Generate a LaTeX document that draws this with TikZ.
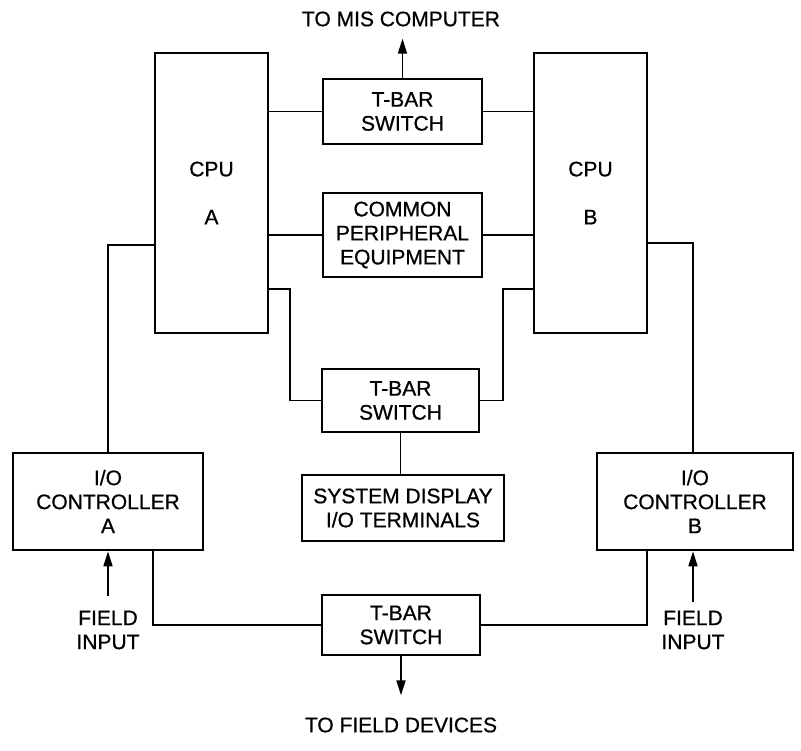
\documentclass[tikz,border=0pt]{standalone}
\usepackage{fontspec}
\newfontfamily\diagfont[FakeBold=0.7]{Liberation Sans}
\usetikzlibrary{arrows.meta}
\begin{document}
\begin{tikzpicture}[x=1pt,y=1pt,
  box/.style={draw, line width=2.6pt, align=center, inner sep=0pt, font=\diagfont\fontsize{21}{24}\selectfont},
  conn/.style={line width=1.7pt},
  arr/.style={line width=1.7pt, -{Triangle[length=15pt,width=9pt]}},
  lbl/.style={align=center, inner sep=0pt, font=\diagfont\fontsize{21}{24}\selectfont}]
\useasboundingbox[fill=white] (0,0) rectangle (801,-751);
% boxes
\node[box, minimum width=113pt, minimum height=280pt] (cpua) at (211.5,-193) {CPU\\[24pt]A};
\node[box, minimum width=113pt, minimum height=280pt] (cpub) at (590.5,-193) {CPU\\[24pt]B};
\node[box, minimum width=159pt, minimum height=65pt] (t1) at (402.5,-111.5) {T-BAR\\SWITCH};
\node[box, minimum width=159pt, minimum height=84pt] (cpe) at (402.5,-235) {COMMON\\PERIPHERAL\\EQUIPMENT};
\node[box, minimum width=157pt, minimum height=63pt] (t2) at (400.5,-400.5) {T-BAR\\SWITCH};
\node[box, minimum width=202pt, minimum height=66pt] (sd) at (403,-508) {SYSTEM DISPLAY\\I/O TERMINALS};
\node[box, minimum width=190pt, minimum height=97pt] (ioa) at (108,-501.5) {I/O\\CONTROLLER\\A};
\node[box, minimum width=196pt, minimum height=97pt] (iob) at (695,-501.5) {I/O\\CONTROLLER\\B};
\node[box, minimum width=158pt, minimum height=60pt] (t3) at (401,-625) {T-BAR\\SWITCH};
% labels
\node[lbl] (mis) at (401,-19) {TO MIS COMPUTER};
\node[lbl] (fld) at (401,-725) {TO FIELD DEVICES};
\node[lbl] (fia) at (108,-630) {FIELD\\INPUT};
\node[lbl] (fib) at (693,-630) {FIELD\\INPUT};
% connectors
\draw[conn] (t1.west) -- (t1.west -| cpua.east);
\draw[conn] (t1.east) -- (t1.east -| cpub.west);
\draw[conn] (cpe.west) -- (cpe.west -| cpua.east);
\draw[conn] (cpe.east) -- (cpe.east -| cpub.west);
\draw[conn] (t2.west) -- ++(-31,0) |- ([yshift=45pt]cpua.south east);
\draw[conn] (t2.east) -- ++(23,0) |- ([yshift=45pt]cpub.south west);
\draw[conn] (t2.south) -- (t2.south |- sd.north);
\draw[conn] ([yshift=-52pt]cpua.west) -| (ioa.north);
\draw[conn] ([yshift=-50pt]cpub.east) -| ([xshift=-2pt]iob.north);
\draw[conn] ([xshift=45pt]ioa.south) |- (t3.west);
\draw[conn] ([xshift=-48pt]iob.south) |- (t3.east);
% arrows
\draw[arr, shorten >=12pt] (t1.north) -- (t1.north |- mis.south);
\draw[arr, shorten >=22pt] (t3.south) -- (t3.south |- fld.north);
\draw[arr, shorten <=14pt] (fia.north) -- (fia.north |- ioa.south);
\draw[arr, shorten <=8pt] (fib.north) -- (fib.north |- iob.south);
\end{tikzpicture}
\end{document}
